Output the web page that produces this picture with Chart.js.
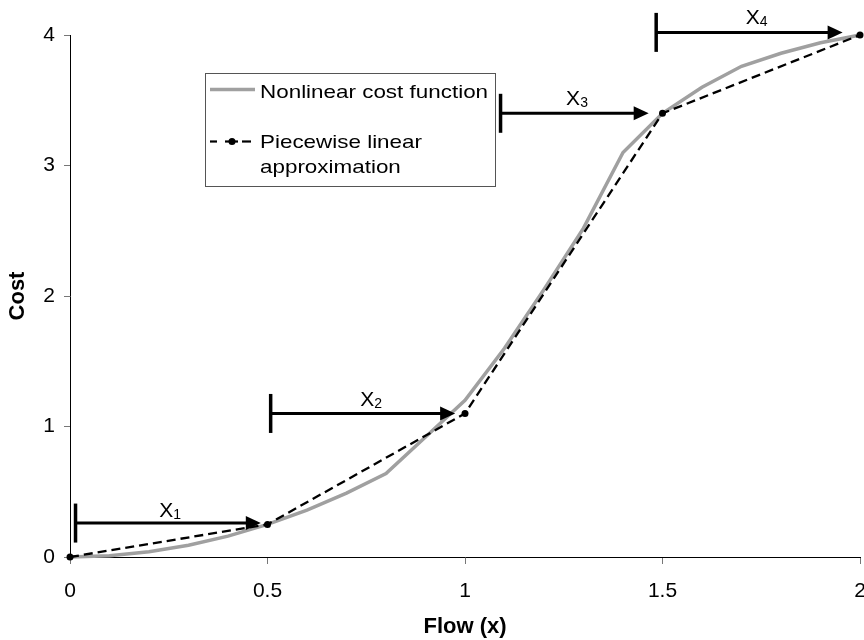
<!DOCTYPE html>
<html><head><meta charset="utf-8">
<script src="https://cdn.jsdelivr.net/npm/chart.js@4.4.0/dist/chart.umd.min.js"></script>
<style>html,body{margin:0;padding:0;background:#fff;overflow:hidden}canvas{display:block}</style>
</head><body>
<canvas id="c" width="864" height="640"></canvas>
<script>
// ---- data ----
const flowX = [0,0.1,0.2,0.3,0.4,0.5,0.6,0.7,0.8,0.9,1.0,1.1,1.2,1.3,1.4,1.5,1.6,1.7,1.8,1.9,2.0];
const nonlinearCost = [0,0.01,0.04,0.09,0.16,0.25,0.36,0.49,0.64,0.92,1.2,1.6,2.05,2.52,3.1,3.4,3.6,3.76,3.86,3.94,4.0];
const breakX = [0,0.5,1,1.5,2];
const breakCost = [0,0.25,1.1,3.4,4];
const xTicks = [0,0.5,1,1.5,2];
const yTicks = [0,1,2,3,4];
const segNames = ['1','2','3','4'];
const segStart = [0.014,0.508,1.09,1.484];
const segEnd = [0.483,0.975,1.465,1.956];
const segLevel = [0.26,1.10,3.40,4.02];
const segLabelX = [0.226,0.735,1.256,1.711];
const segLabelY = [0.307,1.157,3.464,4.084];
const seriesNames = ['Nonlinear cost function','Piecewise linear','approximation'];

const FAM = '"Liberation Sans", Arial, Helvetica, sans-serif';
Chart.defaults.font.family = FAM;
Chart.defaults.color = '#000';

const annot = {
  id:'annot',
  afterDatasetsDraw(chart){
    const {ctx, scales:{x,y}} = chart;
    ctx.save();
    segStart.forEach((s,i)=>{
      const x0=x.getPixelForValue(s), x1=x.getPixelForValue(segEnd[i]), yy=y.getPixelForValue(segLevel[i]);
      ctx.strokeStyle='#000'; ctx.setLineDash([]);
      ctx.lineWidth=3;
      ctx.beginPath(); ctx.moveTo(x0,yy); ctx.lineTo(x1-12,yy); ctx.stroke();
      ctx.lineWidth=3.5;
      ctx.beginPath(); ctx.moveTo(x0,yy-19.5); ctx.lineTo(x0,yy+19.5); ctx.stroke();
      ctx.fillStyle='#000';
      ctx.beginPath(); ctx.moveTo(x1,yy); ctx.lineTo(x1-15,yy-7); ctx.lineTo(x1-15,yy+7); ctx.closePath(); ctx.fill();
      const lx=x.getPixelForValue(segLabelX[i]), ly=y.getPixelForValue(segLabelY[i]);
      ctx.font='21px '+FAM; ctx.textAlign='left'; ctx.textBaseline='alphabetic';
      ctx.fillText('X',lx,ly);
      const w=ctx.measureText('X').width;
      ctx.font='14px '+FAM;
      ctx.fillText(segNames[i], lx+w, ly+2);
    });
    ctx.restore();
  }
};

const legendBox = {
  id:'legendBox',
  afterDraw(chart){
    const ctx = chart.ctx;
    ctx.save();
    ctx.fillStyle='#fff'; ctx.fillRect(205,73,290,113);
    ctx.strokeStyle='#555'; ctx.lineWidth=1; ctx.strokeRect(205.5,73.5,290,113);
    ctx.strokeStyle='#a0a0a0'; ctx.lineWidth=3.5;
    ctx.beginPath(); ctx.moveTo(210,89.5); ctx.lineTo(255,89.5); ctx.stroke();
    ctx.strokeStyle='#000'; ctx.lineWidth=2.2;
    [[210,217],[225,238],[242,251]].forEach(([a,b])=>{ ctx.beginPath(); ctx.moveTo(a,141.5); ctx.lineTo(b,141.5); ctx.stroke(); });
    ctx.fillStyle='#000'; ctx.beginPath(); ctx.arc(232,141.5,3.5,0,Math.PI*2); ctx.fill();
    ctx.font='19px '+FAM; ctx.textAlign='left'; ctx.textBaseline='alphabetic';
    const lines=[[seriesNames[0],98],[seriesNames[1],148],[seriesNames[2],173]];
    lines.forEach(([t,by])=>{
      ctx.save(); ctx.translate(260,by); ctx.scale(1.18,1); ctx.fillText(t,0,0); ctx.restore();
    });
    ctx.restore();
  }
};

new Chart(document.getElementById('c'), {
  type:'scatter',
  data:{datasets:[
    {label:seriesNames[1]+' '+seriesNames[2], data:breakX.map((v,i)=>({x:v,y:breakCost[i]})),
     showLine:true, borderColor:'#000', borderWidth:2.3, borderDash:[9,5], pointRadius:3.5,
     pointBackgroundColor:'#000', pointBorderWidth:0, tension:0, clip:false},
    {label:seriesNames[0], data:flowX.map((v,i)=>({x:v,y:nonlinearCost[i]})),
     showLine:true, borderColor:'#a0a0a0', borderWidth:3.5, pointRadius:0, tension:0, clip:false}
  ]},
  options:{
    responsive:false, animation:false, devicePixelRatio:1,
    layout:{padding:{top:35,right:2,bottom:0,left:0}},
    plugins:{legend:{display:false}, tooltip:{enabled:false}},
    scales:{
      x:{type:'linear', min:0, max:2,
        afterBuildTicks(s){ s.ticks = xTicks.map(v=>({value:v})); },
        afterFit(s){ s.paddingRight=0; s.paddingLeft=0; s.height=83; },
        grid:{drawOnChartArea:false, tickLength:7, color:'#777', lineWidth:1},
        border:{color:'#000', width:1},
        ticks:{padding:15, color:'#000', font:{size:21}, maxRotation:0, autoSkip:false, callback:v=>String(v)},
        title:{display:true, text:'Flow (x)', color:'#000', font:{size:22, weight:'bold'}, padding:{top:0,bottom:0}}
      },
      y:{type:'linear', min:0, max:4,
        afterBuildTicks(s){ s.ticks = yTicks.map(v=>({value:v})); },
        afterFit(s){ s.width=70; s.paddingTop=0; s.paddingBottom=0; },
        grid:{drawOnChartArea:false, tickLength:6, color:'#777', lineWidth:1},
        border:{color:'#000', width:1},
        ticks:{padding:9, color:'#000', font:{size:21}, autoSkip:false, callback:v=>String(v)},
        title:{display:true, text:'Cost', color:'#000', font:{size:22, weight:'bold'}, padding:{top:5,bottom:0}}
      }
    }
  },
  plugins:[annot, legendBox]
});
</script>
</body></html>
